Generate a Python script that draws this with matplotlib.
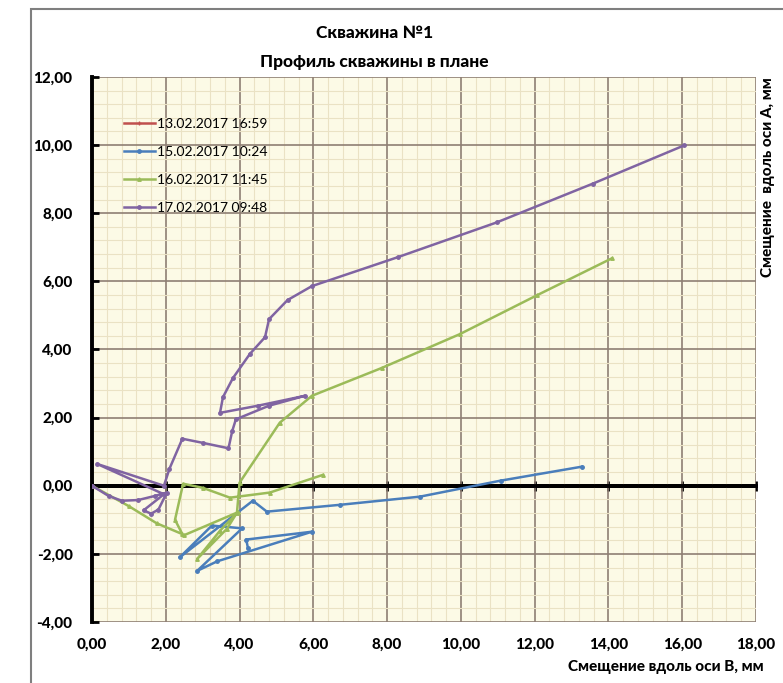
import matplotlib
matplotlib.use('Agg')
import matplotlib.pyplot as plt
import numpy as np
from matplotlib.patches import Rectangle
from matplotlib.ticker import MultipleLocator

plt.rcParams['font.family'] = ['Lato', 'DejaVu Sans']

# 1. Datos
labels = ['13.02.2017 16:59', '15.02.2017 10:24', '16.02.2017 11:45', '17.02.2017 09:48']
colors = ['#C0504D', '#4A7EBB', '#9BBB59', '#8064A2']

red_x = [0.00]
red_y = [0.00]

blue_x = [13.28, 11.08, 8.89, 6.72, 4.74, 4.36, 2.38, 3.25, 4.07, 2.85, 3.39, 5.96, 4.18, 4.23]
blue_y = [0.56, 0.15, -0.32, -0.56, -0.76, -0.44, -2.10, -1.17, -1.25, -2.50, -2.22, -1.35, -1.58, -1.84]

green_x = [0.00, 1.00, 1.75, 2.45, 2.25, 2.47, 3.00, 3.74, 4.82, 6.26, np.nan,
           2.50, 3.95, 3.47, 2.85, 3.66, 3.93, 4.00, 5.09, 5.96, 7.86, 9.97, 12.06, 14.10]
green_y = [0.00, -0.60, -1.10, -1.42, -1.00, 0.06, -0.06, -0.35, -0.20, 0.32, np.nan,
           -1.45, -0.78, -1.32, -2.15, -1.26, -0.79, 0.09, 1.85, 2.64, 3.46, 4.45, 5.59, 6.68]

purple_x = [0.00, 0.45, 0.81, 1.25, 1.70, 2.03, 1.80, 1.60, 1.40, 1.95, 0.14, 1.95, 2.10, 2.45,
            3.00, 3.70, 3.80, 3.90, 4.80, 5.77, 4.50, 3.47, 3.55, 3.82, 4.28, 4.69, 4.80,
            5.30, 5.96, 8.29, 10.97, 13.58, 16.05]
purple_y = [0.00, -0.30, -0.44, -0.42, -0.30, -0.20, -0.70, -0.82, -0.72, -0.25, 0.64, 0.00, 0.50, 1.38,
            1.26, 1.10, 1.60, 1.95, 2.35, 2.64, 2.35, 2.14, 2.60, 3.16, 3.87, 4.36, 4.89,
            5.45, 5.86, 6.71, 7.73, 8.87, 9.99]

x_ticks = [0, 2, 4, 6, 8, 10, 12, 14, 16, 18]
y_ticks = [-4, -2, 0, 2, 4, 6, 8, 10, 12]

title = 'Скважина №1\nПрофиль скважины в плане'
xlabel = 'Смещение вдоль оси В, мм'
ylabel = 'Смещение  вдоль оси А, мм'

# 2. Figura
fig = plt.figure(figsize=(7.83, 6.83), dpi=100)
ax = fig.add_axes([0.1175, 0.0893, 0.848, 0.798])
ax.set_facecolor('#FCFAE6')

series = [(red_x, red_y), (blue_x, blue_y), (green_x, green_y), (purple_x, purple_y)]
markers = ['+', 'o', '^', 'o']
for (xs, ys), lab, col, mk in zip(series, labels, colors, markers):
    ax.plot(xs, ys, color=col, lw=1.8, marker=mk, ms=2.5, label=lab, zorder=3)

ax.set_xlim(0, 18)
ax.set_ylim(-4, 12)
ax.set_xticks(x_ticks)
ax.set_yticks(y_ticks)
ax.set_xticklabels([f'{v:.2f}'.replace('.', ',') for v in x_ticks], fontweight='black', fontsize=11)
ax.set_yticklabels([f'{v:.2f}'.replace('.', ',') for v in y_ticks], fontweight='black', fontsize=11)
ax.xaxis.set_minor_locator(MultipleLocator(0.4))
ax.yaxis.set_minor_locator(MultipleLocator(0.4))
ax.grid(which='minor', color='#EAE2C4', lw=0.8, zorder=0)
ax.grid(which='major', color='#8E7F73', lw=1.2, zorder=1)
ax.set_axisbelow(True)

for s in ['top', 'right', 'bottom']:
    ax.spines[s].set_visible(False)
ax.spines['left'].set_linewidth(2.8)
ax.tick_params(axis='x', length=0, pad=11)
ax.tick_params(axis='y', direction='in', length=5, width=2, pad=14)
ax.tick_params(which='minor', length=0)

# eje horizontal en y = 0
ax.axhline(0, color='black', lw=2.8, zorder=2)
sec = ax.secondary_xaxis(0.25)
for s in sec.spines.values():
    s.set_linewidth(2.8)
sec.set_xticks(x_ticks)
sec.tick_params(direction='inout', length=7, width=2, labelbottom=False, labeltop=False)

# 3. Etiquetas y títulos
ax.set_xlabel(xlabel, fontweight='black', fontsize=11)
ax.xaxis.set_label_coords(1.012, -0.083)
ax.xaxis.label.set_ha('right')
ax.xaxis.label.set_va('center')

ax.yaxis.set_label_position('right')
ax.set_ylabel(ylabel, fontweight='black', fontsize=11)
ax.yaxis.set_label_coords(1.008, 1.0)
ax.yaxis.label.set_ha('right')

fig.text(0.478, 0.963, title, ha='center', va='top', fontweight='black', fontsize=12.5, linespacing=1.95)

ax.legend(loc='upper left', bbox_to_anchor=(0.04, 0.935), frameon=False, fontsize=10,
          handlelength=2.2, handletextpad=0.2, labelspacing=1.15, borderaxespad=0)

fig.add_artist(Rectangle((0.0396, -0.05), 1.0, 1.037, transform=fig.transFigure,
                         fill=False, edgecolor='#7F7F7F', lw=1.5))

fig.savefig('out.png', dpi=100)
